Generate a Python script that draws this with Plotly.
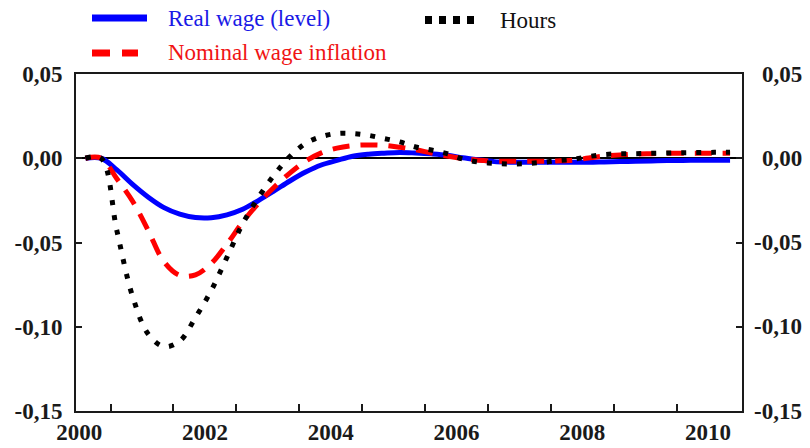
import plotly.graph_objects as go

# ---------------- data ----------------
quarters = [2000.10 + 0.25 * i for i in range(42)]

real_wage = [0, 0, -0.0069, -0.0155, -0.0231, -0.0293, -0.0332, -0.0352, -0.0353, -0.0336,
             -0.0303, -0.0251, -0.0194, -0.0135, -0.0082, -0.0040, -0.0013, 0.0012, 0.0024, 0.0030,
             0.0034, 0.0031, 0.0026, 0.0018, 0.0003, -0.0009, -0.0020, -0.0023, -0.0024, -0.0024,
             -0.0024, -0.0024, -0.0024, -0.0022, -0.0020, -0.0018, -0.0016, -0.0014, -0.0013, -0.0012,
             -0.0012, -0.0012]

nominal_wage_infl = [0, 0, -0.0122, -0.0255, -0.0430, -0.0615, -0.0695, -0.0692, -0.0625, -0.0510,
                     -0.0379, -0.0268, -0.0172, -0.0088, -0.0018, 0.0032, 0.0060, 0.0075, 0.0079, 0.0076,
                     0.0065, 0.0051, 0.0031, 0.0013, -0.0002, -0.0012, -0.0017, -0.0018, -0.0018, -0.0018,
                     -0.0016, -0.0012, 0.0001, 0.0013, 0.0020, 0.0025, 0.0027, 0.0029, 0.0030, 0.0030,
                     0.0030, 0.0030]

hours = [0, 0, -0.0430, -0.0820, -0.1045, -0.1118, -0.1085, -0.0945, -0.0785, -0.0588,
         -0.0389, -0.0233, -0.0100, 0.0010, 0.0088, 0.0128, 0.0147, 0.0147, 0.0136, 0.0117,
         0.0097, 0.0067, 0.0049, 0.0027, -0.0004, -0.0022, -0.0030, -0.0034, -0.0032, -0.0025,
         -0.0015, -0.0007, 0.0010, 0.0022, 0.0026, 0.0027, 0.0029, 0.0031, 0.0033, 0.0034,
         0.0035, 0.0036]

series_names = ["Real wage (level)", "Nominal wage inflation", "Hours"]

x_tick_vals = [2000, 2002, 2004, 2006, 2008, 2010]
x_tick_text = ["2000", "2002", "2004", "2006", "2008", "2010"]
x_minor_vals = [2000.5 + i for i in range(10)]
y_tick_vals = [0.05, 0.0, -0.05, -0.10, -0.15]
y_tick_text = ["0,05", "0,00", "-0,05", "-0,10", "-0,15"]

# ---------------- layout constants ----------------
W, H = 810, 448
L, R, T, B = 76, 68, 74, 37
X_RANGE = [1999.95, 2010.54]
Y_RANGE = [-0.15, 0.05]
FONT = "Liberation Serif"
AXC = "#1a1a1a"


def px(x):
    return (x - L) / (W - L - R)


def py(y):
    return (H - B - y) / (H - T - B)


fig = go.Figure()
fig.add_trace(go.Scatter(x=quarters, y=real_wage, name=series_names[0], mode="lines",
                         line=dict(color="#0000ff", width=5, shape="spline")))
fig.add_trace(go.Scatter(x=quarters, y=nominal_wage_infl, name=series_names[1], mode="lines",
                         line=dict(color="#ff0000", width=5, dash="17px,11px", shape="spline")))
fig.add_trace(go.Scatter(x=quarters, y=hours, name=series_names[2], mode="lines",
                         line=dict(color="#000000", width=5, dash="5px,10px", shape="spline")))
# invisible trace for right axis
fig.add_trace(go.Scatter(x=[X_RANGE[0]], y=[0], yaxis="y2", mode="lines",
                         line=dict(width=0), showlegend=False, hoverinfo="skip"))

tickfont = dict(family=FONT, size=23, color=AXC, weight="bold")

fig.update_layout(
    width=W, height=H,
    margin=dict(l=L, r=R, t=T, b=B, autoexpand=False),
    paper_bgcolor="white", plot_bgcolor="white",
    showlegend=False,
    xaxis=dict(range=X_RANGE, tickvals=x_tick_vals, ticktext=x_tick_text, ticks="",
               showgrid=False, zeroline=False, showline=True, linecolor=AXC, linewidth=2,
               mirror=True, tickfont=tickfont, ticklabelstandoff=-1, automargin=False,
               minor=dict(tickvals=x_minor_vals, ticks="inside", ticklen=7, tickwidth=2,
                          tickcolor=AXC, showgrid=False)),
    yaxis=dict(range=Y_RANGE, tickvals=y_tick_vals, ticktext=y_tick_text, ticks="inside",
               ticklen=6, tickwidth=2, tickcolor=AXC, showgrid=False,
               zeroline=True, zerolinecolor="#000000", zerolinewidth=2,
               showline=True, linecolor=AXC, linewidth=2, tickfont=tickfont,
               ticklabelstandoff=7, automargin=False),
    yaxis2=dict(range=Y_RANGE, tickvals=y_tick_vals, ticks="inside", showticklabels=False,
                ticklen=6, tickwidth=2, tickcolor=AXC, showgrid=False, zeroline=False,
                overlaying="y", side="right", showline=True, linecolor=AXC, linewidth=2,
                automargin=False),
)

# right-hand tick labels (right-aligned, as in the original)
for v, t in zip(y_tick_vals, y_tick_text):
    fig.add_annotation(x=px(804), y=v, xref="paper", yref="y", text=t, showarrow=False,
                       xanchor="right", yanchor="middle", font=tickfont)

# ---------------- legend (drawn manually) ----------------
fig.add_shape(type="line", xref="paper", yref="paper", x0=px(92), x1=px(147), y0=py(18), y1=py(18),
              line=dict(color="#0000ff", width=7))
fig.add_shape(type="line", xref="paper", yref="paper", x0=px(92), x1=px(138), y0=py(53), y1=py(53),
              line=dict(color="#ff0000", width=7, dash="18px,12px"))
fig.add_shape(type="line", xref="paper", yref="paper", x0=px(425), x1=px(475), y0=py(20), y1=py(20),
              line=dict(color="#000000", width=8, dash="7px,7px"))

legend_font = 23
fig.add_annotation(x=px(166), y=py(18), xref="paper", yref="paper", text=series_names[0],
                   showarrow=False, xanchor="left", yanchor="middle",
                   font=dict(family=FONT, size=legend_font, color="#1a1ae6"))
fig.add_annotation(x=px(166), y=py(53), xref="paper", yref="paper", text=series_names[1],
                   showarrow=False, xanchor="left", yanchor="middle",
                   font=dict(family=FONT, size=legend_font, color="#f01414"))
fig.add_annotation(x=px(498), y=py(20), xref="paper", yref="paper", text=series_names[2],
                   showarrow=False, xanchor="left", yanchor="middle",
                   font=dict(family=FONT, size=legend_font, color="#111111"))

fig.write_html("out.html", config={"displayModeBar": False},
               post_script="document.body.style.margin='0px';")
